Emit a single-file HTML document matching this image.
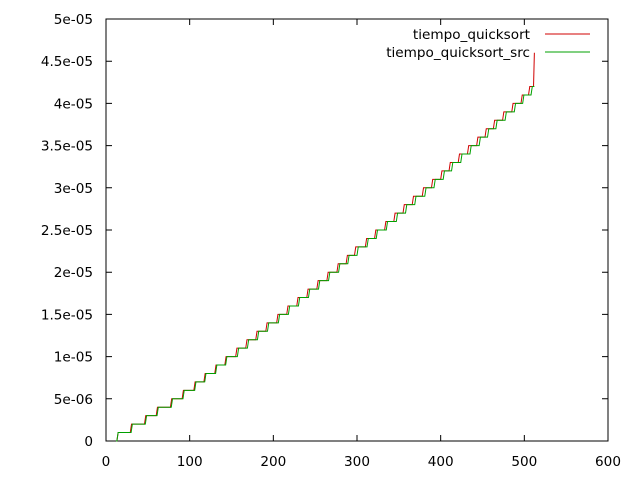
<!DOCTYPE html>
<html><head><meta charset="utf-8"><style>
body{margin:0;background:#fff}
svg{display:block;font-family:"DejaVu Sans",sans-serif;font-size:13.6px}
</style></head><body>
<svg id="c" width="640" height="480"></svg>
<script>
const xTicks=[0,100,200,300,400,500,600];
const yTicks=[0,5e-6,1e-5,1.5e-5,2e-5,2.5e-5,3e-5,3.5e-5,4e-5,4.5e-5,5e-5];
const yTickLabels=["0","5e-06","1e-05","1.5e-05","2e-05","2.5e-05","3e-05","3.5e-05","4e-05","4.5e-05","5e-05"];
const seriesNames=["tiempo_quicksort","tiempo_quicksort_src"];
const startX=12;
const endX=512;
// x position where each series steps up by 1e-6
const redSteps=[13,29,46,60,77,91,105,117,130,142,155,167,179,191,204,216,228,240,252,264,276,287,297,310,321,333,344,355,366,378,389,400,410,421,432,443,453,463,474,485,496,505];
const greenSteps=[13,30,47,61,78,92,106,118,131,143,157,169,181,193,206,218,230,242,254,266,278,289,300,312,323,335,347,358,369,381,392,403,413,424,435,446,456,466,477,488,498,508];
const redFinal=4.6e-5;
const unit=1e-6;

const L=106,R=608,T=19,B=441;
const X=v=>L+v/600*(R-L);
const Y=v=>B-v/5e-5*(B-T);
const svg=document.getElementById('c');
const NS='http://www.w3.org/2000/svg';
function mk(t,a){const e=document.createElementNS(NS,t);for(const k in a)e.setAttribute(k,a[k]);svg.appendChild(e);return e;}

const frame=mk('rect',{x:L,y:T,width:R-L,height:B-T,fill:'none',stroke:'#000','stroke-width':1});



xTicks.forEach(v=>{
  const x=X(v);
  const t=mk('path',{d:`M${x} ${B}v-6M${x} ${T}v6`,stroke:'#000'});
  
  
  const l=mk('text',{x:x,y:B+25,'text-anchor':'middle'});
  l.textContent=v;
  
  
});
yTicks.forEach((v,i)=>{
  const y=Y(v);
  const t=mk('path',{d:`M${L} ${y}h6M${R} ${y}h-6`,stroke:'#000'});
  
  
  const l=mk('text',{x:L-13,y:y+5,'text-anchor':'end'});
  l.textContent=yTickLabels[i];
  
  
});

function stepPts(steps){
  const p=[[X(startX),Y(0)]];
  steps.forEach((s,i)=>{p.push([X(s),Y(i*unit)]);p.push([X(s+1.5),Y((i+1)*unit)]);});
  return p;
}
const rp=stepPts(redSteps);
rp.push([X(endX-1),Y(redSteps.length*unit)]);
rp.push([X(endX),Y(redFinal)]);
const gp=stepPts(greenSteps);
gp.push([X(endX),Y(greenSteps.length*unit)]);

const rl=mk('polyline',{points:rp.map(p=>p.join(',')).join(' '),fill:'none',stroke:'#d00000','stroke-width':1});


const gl=mk('polyline',{points:gp.map(p=>p.join(',')).join(' '),fill:'none',stroke:'#00a000','stroke-width':1});



const cols=['#d00000','#00a000'];
seriesNames.forEach((n,i)=>{
  const y=34+i*18;
  const t=mk('text',{x:530,y:y+5,'text-anchor':'end'});
  t.textContent=n;
  
  
  const l=mk('line',{x1:545,x2:590,y1:y,y2:y,stroke:cols[i]});
  
  
});
</script>
</body></html>
